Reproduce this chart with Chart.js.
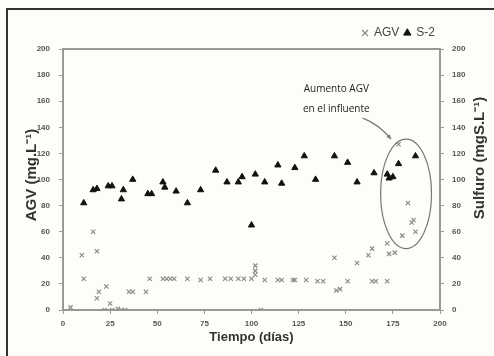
<!DOCTYPE html>
<html>
<head>
<meta charset="utf-8">
<script src="https://cdn.jsdelivr.net/npm/chart.js@4.4.1/dist/chart.umd.min.js"></script>
<style>
  html, body { margin: 0; padding: 0; background: #fdfdfa; overflow: hidden; }
  #wrap { position: relative; width: 494px; height: 356px; }
  #frame { position: absolute; left: 6px; top: 8px; width: 600px; height: 400px; border: 2px solid #333; }
  canvas { position: absolute; left: 0; top: 0; }
</style>
</head>
<body>
<div id="wrap">
  <div id="frame"></div>
  <canvas id="chart" width="494" height="356"></canvas>
</div>
<script>
// AGV (crosses) - days and mg/L
var agvDays = [4, 10, 11, 16, 18, 18, 19, 23, 25, 22, 26, 29, 31, 33, 35, 37, 44,
  46, 53, 55, 57, 59, 66, 73, 78, 86, 89, 93, 96, 100, 102, 102, 102, 105, 107,
  114, 116, 122, 123, 129, 135, 138, 144, 145, 147, 151, 156, 162, 164, 164, 166,
  172, 172, 173, 176, 178, 180, 183, 185, 186, 187];
var agvValues = [2, 42, 24, 60, 45, 9, 14, 18, 5, 0, 0, 1, 0, 0, 14, 14, 14,
  24, 24, 24, 24, 24, 24, 23, 24, 24, 24, 24, 24, 24, 34, 30, 27, 0, 23,
  23, 23, 23, 23, 23, 22, 22, 40, 15, 16, 22, 36, 42, 47, 22, 22,
  22, 51, 43, 44, 127, 57, 82, 67, 69, 60];

// S-2 (triangles) - days and mgS/L
var s2Days = [11, 16, 18, 24, 26, 31, 32, 37, 45, 47, 53, 54, 60, 66, 73, 81, 87,
  93, 95, 100, 102, 107, 114, 116, 123, 128, 134, 144, 151, 156, 165, 172, 173,
  175, 178, 187];
var s2Values = [82, 92, 93, 95, 95, 85, 92, 100, 89, 89, 98, 94, 91, 82, 92, 107, 98,
  98, 102, 65, 104, 98, 111, 97, 109, 118, 100, 118, 113, 98, 105, 104, 101,
  102, 112, 118];

var xTicks = [0, 25, 50, 75, 100, 125, 150, 175, 200];
var yTicks = [0, 20, 40, 60, 80, 100, 120, 140, 160, 180, 200];

function toPoints(xs, ys) {
  return xs.map(function (x, i) { return { x: x, y: ys[i] }; });
}

var tickFont = { family: 'Liberation Sans', size: 8, weight: 'bold' };

// plot frame, ellipse, arrow, note and the axis titles
var extras = {
  id: 'extras',
  afterDraw: function (chart) {
    var ctx = chart.ctx, a = chart.chartArea;
    var sx = chart.scales.x, sy = chart.scales.y;
    ctx.save();
    ctx.strokeStyle = '#999';
    ctx.lineWidth = 2;
    ctx.beginPath();
    ctx.moveTo(a.left, a.top);
    ctx.lineTo(a.right, a.top);
    ctx.stroke();

    // ellipse round the last points
    var cx = sx.getPixelForValue(182), cy = sy.getPixelForValue(89);
    var rx = sx.getPixelForValue(195.5) - cx, ry = cy - sy.getPixelForValue(131);
    ctx.strokeStyle = '#777';
    ctx.lineWidth = 1.2;
    ctx.beginPath();
    ctx.ellipse(cx, cy, rx, ry, 0, 0, Math.PI * 2);
    ctx.stroke();

    // arrow
    var x1 = sx.getPixelForValue(159), y1 = sy.getPixelForValue(147);
    var x2 = sx.getPixelForValue(174), y2 = sy.getPixelForValue(131);
    ctx.beginPath();
    ctx.moveTo(x1, y1);
    ctx.quadraticCurveTo(x1 + 16, y1 + 6, x2, y2);
    ctx.stroke();
    var ang = Math.atan2(y2 - (y1 + 6), x2 - (x1 + 16));
    ctx.fillStyle = '#777';
    ctx.beginPath();
    ctx.moveTo(x2, y2);
    ctx.lineTo(x2 - 5 * Math.cos(ang - 0.45), y2 - 5 * Math.sin(ang - 0.45));
    ctx.lineTo(x2 - 5 * Math.cos(ang + 0.45), y2 - 5 * Math.sin(ang + 0.45));
    ctx.closePath();
    ctx.fill();

    ctx.fillStyle = '#222';
    ctx.font = '10px "Open Sans"';
    ctx.textAlign = 'center';
    ctx.textBaseline = 'middle';
    var tx = sx.getPixelForValue(145);
    ctx.fillText('Aumento AGV', tx, sy.getPixelForValue(169));
    ctx.fillText('en el influente', tx, sy.getPixelForValue(154));

    // axis titles
    ctx.fillStyle = '#333';
    ctx.font = 'bold 13px "Liberation Sans"';
    ctx.fillText('Tiempo (días)', (a.left + a.right) / 2, 337);
    ctx.font = 'bold 15px "Liberation Sans"';
    ctx.save();
    ctx.translate(32, 175);
    ctx.rotate(-Math.PI / 2);
    ctx.fillText('AGV (mg.L\u207B\u00B9)', 0, 0);
    ctx.restore();
    ctx.translate(480, 158);
    ctx.rotate(-Math.PI / 2);
    ctx.fillText('Sulfuro (mgS.L\u207B\u00B9)', 0, 0);
    ctx.restore();
  }
};

new Chart(document.getElementById('chart'), {
  type: 'scatter',
  data: {
    datasets: [
      {
        label: 'AGV',
        data: toPoints(agvDays, agvValues),
        yAxisID: 'y',
        pointStyle: 'crossRot',
        pointRadius: 3,
        borderColor: '#8c8c8c',
        backgroundColor: '#8c8c8c',
        borderWidth: 1.2
      },
      {
        label: 'S-2',
        data: toPoints(s2Days, s2Values),
        yAxisID: 'y2',
        pointStyle: 'triangle',
        pointRadius: 3.6,
        borderColor: '#111',
        backgroundColor: '#111',
        borderWidth: 1
      }
    ]
  },
  options: {
    responsive: false,
    animation: false,
    layout: { padding: { top: 22, left: 0, right: 0, bottom: 0 } },
    plugins: {
      tooltip: { enabled: false },
      legend: {
        position: 'top',
        align: 'end',
        fullSize: false,
        labels: {
          usePointStyle: true,
          boxWidth: 6,
          boxHeight: 6,
          padding: 5,
          color: '#444',
          font: { family: 'Liberation Sans', size: 12 }
        }
      }
    },
    scales: {
      x: {
        type: 'linear',
        min: 0,
        max: 200,
        afterBuildTicks: function (s) { s.ticks = xTicks.map(function (v) { return { value: v }; }); },
        afterFit: function (s) { s.height = 46; },
        ticks: { color: '#555', font: tickFont, padding: 5, maxRotation: 0 },
        grid: { drawOnChartArea: false, tickLength: 4, color: '#999' },
        border: { color: '#999', width: 2 }
      },
      y: {
        position: 'left',
        min: 0,
        max: 200,
        afterBuildTicks: function (s) { s.ticks = yTicks.map(function (v) { return { value: v }; }); },
        afterFit: function (s) { s.width = 63; },
        ticks: { color: '#555', font: tickFont, padding: 9 },
        grid: { drawOnChartArea: false, tickLength: 4, color: '#999' },
        border: { color: '#999', width: 2 }
      },
      y2: {
        position: 'right',
        min: 0,
        max: 200,
        afterBuildTicks: function (s) { s.ticks = yTicks.map(function (v) { return { value: v }; }); },
        afterFit: function (s) { s.width = 54; },
        ticks: { color: '#555', font: tickFont, padding: 8 },
        grid: { drawOnChartArea: false, tickLength: 4, color: '#999' },
        border: { color: '#999', width: 2 }
      }
    }
  },
  plugins: [extras]
});
</script>
</body>
</html>
